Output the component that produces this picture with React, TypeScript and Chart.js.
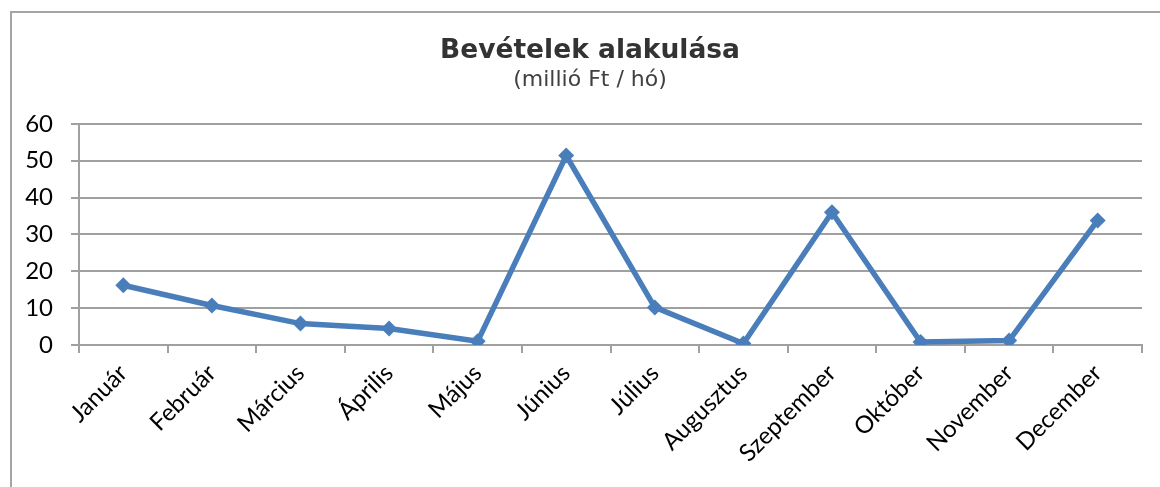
import React, { useEffect, useRef } from "react";
import { Chart, registerables } from "chart.js";

Chart.register(...registerables);

const months: string[] = [
  "Január", "Február", "Március", "Április", "Május", "Június",
  "Július", "Augusztus", "Szeptember", "Október", "November", "December",
];
const revenue: number[] = [16.2, 10.7, 5.8, 4.5, 1.0, 51.4, 10.2, 0.4, 36.0, 0.8, 1.2, 33.8];
const yMin = 0;
const yMax = 60;
const yStep = 10;
const titleText = "Bevételek alakulása";
const subtitleText = "(millió Ft / hó)";

export default function App() {
  const ref = useRef<HTMLCanvasElement | null>(null);

  useEffect(() => {
    if (!ref.current) return;
    const lineColor = "#4A7EBB";
    const gridColor = "#a0a0a0";
    const chart = new Chart(ref.current, {
      type: "line",
      data: {
        labels: months,
        datasets: [
          {
            data: revenue,
            yAxisID: "y",
            borderColor: lineColor,
            backgroundColor: lineColor,
            borderWidth: 5.5,
            pointStyle: "rectRot",
            pointRadius: 8,
            pointBackgroundColor: lineColor,
            pointBorderColor: lineColor,
            pointBorderWidth: 0,
            tension: 0,
            fill: false,
          },
        ],
      },
      options: {
        responsive: false,
        animation: false,
        layout: { padding: { top: 0, right: 0, bottom: 0, left: 20 } },
        plugins: {
          legend: { display: false },
          tooltip: { enabled: false },
          title: {
            display: true,
            text: titleText,
            color: "#333333",
            font: { family: "DejaVu Sans", size: 26.5, weight: "bold", lineHeight: 1.2 },
            padding: { top: 35.5, bottom: 0 },
          },
          subtitle: {
            display: true,
            text: subtitleText,
            color: "#404040",
            font: { family: "DejaVu Sans", size: 22, weight: "normal", lineHeight: 1.2 },
            padding: { top: 0, bottom: 30.1 },
          },
        },
        scales: {
          x: {
            type: "category",
            offset: true,
            afterFit: (s: any) => {
              s.height = 142;
            },
            grid: {
              display: true,
              drawOnChartArea: false,
              drawTicks: true,
              tickLength: 8,
              color: gridColor,
              lineWidth: 2,
              offset: true,
            },
            border: { display: true, color: gridColor, width: 2 },
            ticks: {
              color: "#000000",
              font: { family: "Lato", size: 24 },
              minRotation: 45,
              maxRotation: 45,
              autoSkip: false,
              padding: 6,
            },
          },
          y: {
            min: yMin,
            max: yMax,
            position: "left",
            afterFit: (s: any) => {
              s.width = 59;
            },
            grid: {
              display: true,
              drawTicks: true,
              tickLength: 8,
              color: gridColor,
              lineWidth: 2,
            },
            border: { display: true, color: gridColor, width: 2 },
            ticks: {
              stepSize: yStep,
              color: "#000000",
              font: { family: "Lato", size: 24 },
              padding: 18,
            },
          },
          spacer: {
            type: "linear",
            position: "right",
            display: true,
            afterFit: (s: any) => {
              s.width = 18;
            },
            grid: { display: false, drawOnChartArea: false, drawTicks: false },
            border: { display: false },
            ticks: { display: false },
          },
        },
      },
    });
    return () => chart.destroy();
  }, []);

  return (
    <div
      style={{
        position: "fixed",
        left: 0,
        top: 0,
        width: 1160,
        height: 487,
        overflow: "hidden",
        background: "#ffffff",
      }}
    >
      <div
        style={{
          position: "absolute",
          left: 10,
          top: 11,
          width: 2000,
          height: 2000,
          border: "2px solid #a5a5a5",
          boxSizing: "border-box",
        }}
      />
      <canvas
        ref={ref}
        width={1160}
        height={487}
        style={{ position: "absolute", left: 0, top: 0, width: 1160, height: 487 }}
      />
    </div>
  );
}
